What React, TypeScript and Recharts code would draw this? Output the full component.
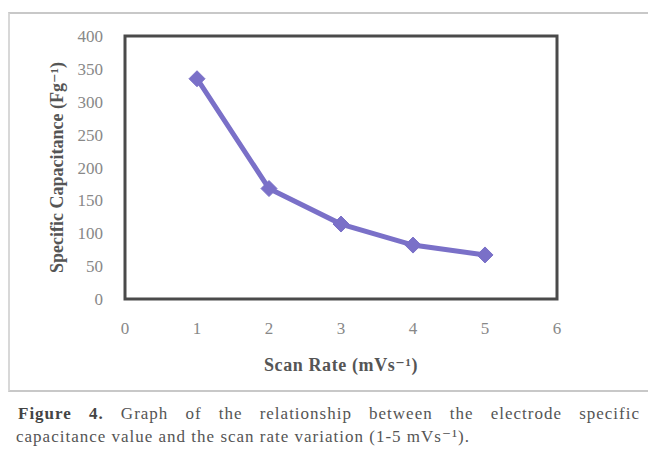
import React from 'react';
import { LineChart, Line, XAxis, YAxis, ReferenceArea, Label } from 'recharts';

const scanRates = [1, 2, 3, 4, 5];
const capacitance = [335, 168, 114, 82, 67];
const xTicks = [0, 1, 2, 3, 4, 5, 6];
const yTicks = [0, 50, 100, 150, 200, 250, 300, 350, 400];

const data = scanRates.map((x, i) => ({ x, y: capacitance[i] }));

const LINE = '#7a70c8';
const FONT = '"Liberation Serif", "DejaVu Serif", serif';

const Diamond = (props: any) => {
  const { cx, cy } = props;
  if (cx == null || cy == null) return null;
  const r = 8;
  return (
    <polygon
      points={`${cx},${cy - r} ${cx + r},${cy} ${cx},${cy + r} ${cx - r},${cy}`}
      fill={LINE}
      stroke={LINE}
    />
  );
};

export default function App() {
  return (
    <div style={{ position: 'absolute', left: 0, top: 0, width: 648, height: 450, background: '#fff', overflow: 'hidden', fontFamily: FONT }}>
      <div style={{ position: 'absolute', left: 8, top: 12, width: 660, height: 376, borderTop: '2px solid #c8c8c8', borderLeft: '2px solid #d8d8d8', borderBottom: '2px solid #c8c8c8' }} />
      <div style={{ position: 'absolute', left: 0, top: 0 }}>
        <LineChart width={648} height={390} data={data} margin={{ top: 36, right: 91, bottom: 61, left: 65 }}>
          <XAxis
            dataKey="x"
            type="number"
            domain={[0, 6]}
            ticks={xTicks}
            height={30}
            tickLine={false}
            axisLine={false}
            tickMargin={17}
            tick={{ fill: '#888', fontSize: 17, fontFamily: FONT }}
          >
            <Label value="Scan Rate (mVs⁻¹)" position="insideBottom" offset={-42} fill="#555" fontSize={18} fontWeight="bold" fontFamily={FONT} letterSpacing={0.6} />
          </XAxis>
          <YAxis
            type="number"
            domain={[0, 400]}
            ticks={yTicks}
            width={60}
            tickLine={false}
            axisLine={false}
            tickMargin={16}
            tick={{ fill: '#888', fontSize: 17, fontFamily: FONT }}
          >
            <Label value="Specific Capacitance (Fg⁻¹)" angle={-90} position="insideLeft" offset={0} dx={-8} fill="#555" fontSize={18} fontWeight="bold" fontFamily={FONT} style={{ textAnchor: 'middle' }} />
          </YAxis>
          <ReferenceArea x1={0} x2={6} y1={0} y2={400} fill="none" stroke="#4a4a4a" strokeWidth={3} ifOverflow="visible" />
          <Line
            type="linear"
            dataKey="y"
            stroke={LINE}
            strokeWidth={5}
            dot={<Diamond />}
            activeDot={false}
            isAnimationActive={false}
          />
        </LineChart>
      </div>
      <div style={{ position: 'absolute', left: 18, top: 404, width: 622, fontSize: 17, letterSpacing: 1, color: '#555', textAlign: 'justify', textAlignLast: 'justify', lineHeight: '20px', whiteSpace: 'nowrap' }}>
        <b style={{ color: '#444' }}>Figure 4.</b> Graph of the relationship between the electrode specific
      </div>
      <div style={{ position: 'absolute', left: 16, top: 427, width: 627, fontSize: 17, letterSpacing: 1, color: '#555', lineHeight: '20px', whiteSpace: 'nowrap' }}>
        capacitance value and the scan rate variation (1-5 mVs⁻¹).
      </div>
    </div>
  );
}
